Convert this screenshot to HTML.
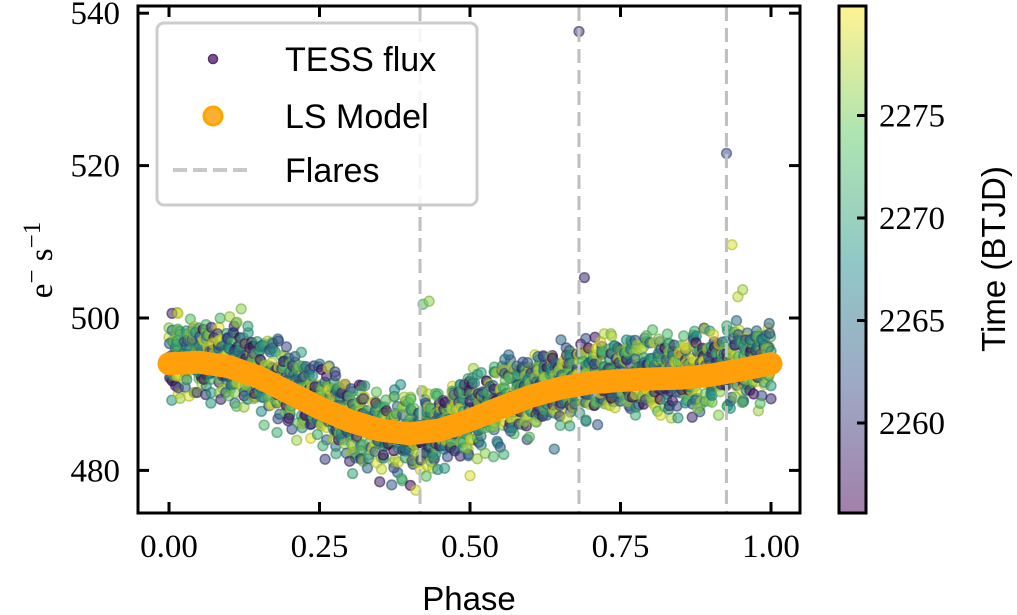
<!DOCTYPE html>
<html><head><meta charset="utf-8">
<style>
html,body{margin:0;padding:0;background:#fff;}
svg{display:block;}
.tick{font-family:"Liberation Serif",serif;font-size:33px;fill:#000;}
.lab{font-family:"Liberation Sans",sans-serif;font-size:33px;fill:#000;}
.leg{font-family:"Liberation Sans",sans-serif;font-size:34px;fill:#000;}
</style></head>
<body>
<svg id="chart" width="1017" height="615" viewBox="0 0 1017 615" xmlns="http://www.w3.org/2000/svg">
<defs>
<linearGradient id="vir" x1="0" y1="1" x2="0" y2="0">
<stop offset="0" stop-color="#440154"/><stop offset="0.25" stop-color="#3b528b"/><stop offset="0.5" stop-color="#21918c"/><stop offset="0.75" stop-color="#5ec962"/><stop offset="1" stop-color="#fde725"/>
</linearGradient>
<clipPath id="plotclip"><rect x="138" y="6" width="662" height="507"/></clipPath>
</defs>
<g id="points" clip-path="url(#plotclip)"></g>
<g id="flares"></g>
<g id="model" clip-path="url(#plotclip)"></g>
<rect x="138" y="6" width="662" height="507" fill="none" stroke="#000" stroke-width="3"/>
<g id="xticks"></g>
<g id="yticks"></g>
<text class="lab" x="469" y="610" text-anchor="middle">Phase</text>
<text class="tick" transform="translate(52,260) rotate(-90)" text-anchor="middle">e<tspan dy="-12" font-size="25">−</tspan><tspan dy="12"> s</tspan><tspan dy="-12" font-size="25">−1</tspan></text>
<g>
<rect x="157" y="23" width="320" height="182" rx="7" fill="#fff" fill-opacity="0.85" stroke="#ccc" stroke-width="3"/>
<circle cx="213" cy="59" r="4.5" fill="#7b4f94" stroke="#55306c" stroke-width="1.5"/>
<text class="leg" x="285" y="71">TESS flux</text>
<circle cx="213" cy="116" r="9" fill="#fbb032" stroke="#ffa500" stroke-width="3"/>
<text class="leg" x="285" y="128">LS Model</text>
<line x1="173" y1="170" x2="253" y2="170" stroke="#c8c8c8" stroke-width="4" stroke-dasharray="14,6"/>
<text class="leg" x="285" y="182">Flares</text>
</g>
<rect x="839" y="6" width="27" height="507" fill="url(#vir)" opacity="0.5"/>
<rect x="839" y="6" width="27" height="507" fill="none" stroke="#000" stroke-width="3"/>
<g id="cticks"></g>
<text class="lab" transform="translate(1005,259) rotate(-90)" text-anchor="middle">Time (BTJD)</text>
</svg>
<script>
// ---- data ----
const modelPhase = [0,0.05,0.1,0.15,0.2,0.25,0.3,0.35,0.4,0.45,0.5,0.55,0.6,0.65,0.7,0.75,0.8,0.85,0.9,0.95,1.0];
const modelFlux  = [494,494.2,493.6,492.2,490.2,488.2,486.5,485.3,484.8,485.3,486.6,488.2,489.7,490.8,491.5,491.8,492,492.1,492.5,493.2,494];
const flarePhases = [0.417,0.681,0.926];
const residuals = [2.1,-1.4,3.6,-3.0,0.4,4.2,-2.2,1.3,-4.1,2.8,-0.6,3.1,-1.9,0.9,-3.4,1.7,4.6,-2.7,0.2,-1.1,2.5,-4.5,3.9,-0.3,1.0,-2.4,4.0,-3.8,0.6,2.3,-1.6,3.3,-0.9,-4.3,1.9,-2.0,2.9];
const timeValues = [2256.2,2271.4,2277.8,2262.9,2268.3,2279.1,2258.7,2274.6,2265.2,2276.9,2260.4,2270.1,2278.4,2263.8,2273.2,2257.5,2267.7,2275.9,2261.6,2279.6,2269.0,2264.5,2272.7];
const outlierPhase = [0.681,0.926,0.69,0.422,0.432,0.935,0.945,0.953,0.005,0.015,0.12,0.41,0.35,0.37,0.30,0.22,0.50,0.64];
const outlierFlux  = [537.6,521.6,505.3,501.8,502.2,509.6,502.8,503.7,500.6,500.6,501.2,477.4,478.5,478.1,481.2,495.5,479.3,482.8];
const outlierTime  = [2260,2262,2259,2273,2276,2279,2278,2277,2258,2279,2276,2279,2258,2263,2259,2270,2279,2265];
const xTickVals = [0,0.25,0.5,0.75,1.0];
const xTickLabels = ["0.00","0.25","0.50","0.75","1.00"];
const yTickVals = [480,500,520,540];
const cTickVals = [2260,2265,2270,2275];

// ---- scales ----
const X = p => 169 + p*602;
const Y = v => 318 - (v-500)*7.62;
const C = t => 423 - (t-2260)*20.5;
function viridis(t){
  const s=[[68,1,84],[59,82,139],[33,145,140],[94,201,98],[253,231,37]];
  let u=Math.max(0,Math.min(1,(t-2255.6)/(2280.3-2255.6)))*4;
  let i=Math.min(3,Math.floor(u)),f=u-i;
  return s[i].map((c,k)=>Math.round(c+(s[i+1][k]-c)*f));
}
function interp(p){
  p=Math.max(0,Math.min(1,p));
  for(let i=0;i<modelPhase.length-1;i++){
    if(p<=modelPhase[i+1]){const f=(p-modelPhase[i])/(modelPhase[i+1]-modelPhase[i]);return modelFlux[i]+f*(modelFlux[i+1]-modelFlux[i]);}
  }
  return modelFlux[modelFlux.length-1];
}
const NS='http://www.w3.org/2000/svg';
function mk(tag,attrs,parent){const e=document.createElementNS(NS,tag);for(const k in attrs)e.setAttribute(k,attrs[k]);parent.appendChild(e);return e;}

// points
const pg=document.getElementById('points');
function dot(p,v,t){
  const c=viridis(t);
  const e=mk('circle',{cx:X(p).toFixed(1),cy:Y(v).toFixed(1),r:4.9,fill:`rgb(${c})`,'fill-opacity':0.55,stroke:`rgb(${c.map(x=>Math.round(x*0.8))})`,'stroke-opacity':0.6,'stroke-width':1.5},pg);
  
  
}
const N=2200;
const R=residuals.length, T=timeValues.length;
for(let i=0;i<N;i++){
  const blk=Math.floor(i/R);
  const p=Math.max(0,Math.min(1,i/(N-1)+residuals[(i*5+blk*3)%R]*0.0012));
  const r=residuals[(i*i*7+i*3)%R]*0.62
        +(timeValues[(i*9)%T]-2268)*0.23
        +residuals[(blk*11+i*2)%R]*0.36;
  let extra=0;
  if(p>0.28&&p<0.46) extra=-0.8+residuals[(blk*5+i)%R]*0.25;
  dot(p,interp(p)+r+extra,timeValues[(i*7+blk*5)%T]);
}
outlierPhase.forEach((p,i)=>dot(p,outlierFlux[i],outlierTime[i]));

// flares
const fg=document.getElementById('flares');
flarePhases.forEach(p=>{
  const l=mk('line',{x1:X(p),x2:X(p),y1:7,y2:512,stroke:'#bfbfbf','stroke-width':3,'stroke-dasharray':'14,7'},fg);
  
  
});

// model
const mg=document.getElementById('model');
let d='';
for(let i=0;i<=200;i++){const p=i/200;d+=(i?'L':'M')+X(p).toFixed(1)+','+Y(interp(p)).toFixed(1);}
const path=mk('path',{d:d,fill:'none',stroke:'#ffa00a','stroke-width':23,'stroke-linecap':'round','stroke-linejoin':'round'},mg);



// x ticks
const xg=document.getElementById('xticks');
xTickVals.forEach((v,i)=>{
  const a=mk('line',{x1:X(v),x2:X(v),y1:513,y2:502,stroke:'#000','stroke-width':3},xg);
  
  
  const b=mk('line',{x1:X(v),x2:X(v),y1:6,y2:17,stroke:'#000','stroke-width':3},xg);
  
  
  const t=mk('text',{x:X(v),y:557,'text-anchor':'middle',class:'tick'},xg);
  t.textContent=xTickLabels[i];
  
  
});
// y ticks
const yg=document.getElementById('yticks');
yTickVals.forEach(v=>{
  const a=mk('line',{x1:138,x2:149,y1:Y(v),y2:Y(v),stroke:'#000','stroke-width':3},yg);
  
  
  const b=mk('line',{x1:789,x2:800,y1:Y(v),y2:Y(v),stroke:'#000','stroke-width':3},yg);
  
  
  const t=mk('text',{x:120,y:Y(v)+11,'text-anchor':'end',class:'tick'},yg);
  t.textContent=String(v);
  
  
});
// colorbar ticks
const cg=document.getElementById('cticks');
cTickVals.forEach(v=>{
  const a=mk('line',{x1:857,x2:866,y1:C(v),y2:C(v),stroke:'#000','stroke-width':3},cg);
  
  
  const t=mk('text',{x:879,y:C(v)+11,class:'tick'},cg);
  t.textContent=String(v);
  
  
});
</script>
</body></html>
